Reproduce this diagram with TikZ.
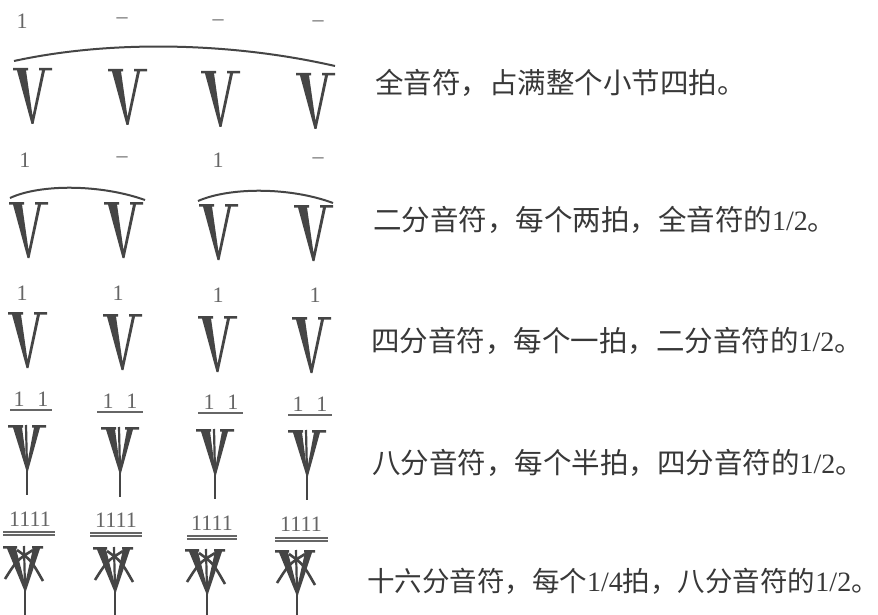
\documentclass[tikz,border=0pt]{standalone}
\usepackage{fontspec}
\setmainfont{Liberation Serif}
\newfontfamily\cjk{Noto Sans CJK SC}
\definecolor{ink}{HTML}{454545}
\definecolor{txt}{HTML}{383838}
\definecolor{numc}{HTML}{666666}
\newcommand{\lat}[1]{{\fontsize{28}{28}\selectfont #1}}
\tikzset{
  vq/.pic={
    \fill[ink] (-19,0) -- (-4,0) -- (-4,2.5) -- (-6,2.5) -- (0.5,48) -- (10,2.5) -- (7,2.5) -- (7,0)
      -- (20,0) -- (20,2.5) -- (13,2.5) -- (1.5,56) -- (-0.5,56) -- (-15,2.5) -- (-19,2.5) -- cycle;
  },
  ve/.pic={
    \fill[ink] (-19,0) -- (-4,0) -- (-4,2.5) -- (-5,2.5) -- (0,40) -- (7,2.5) -- (5,2.5) -- (5,0)
      -- (19,0) -- (19,2.5) -- (13,2.5) -- (1,46) -- (-0.5,46) -- (-14,2.5) -- (-19,2.5) -- cycle;
    \draw[ink,line width=2.2] (-1,0) -- (0,44);
    \draw[ink,line width=2.2] (0.3,44) -- (0.3,70);
  },
  vs/.pic={
    \fill[ink] (-22,0) -- (-8,0) -- (-8,2.5) -- (-9,2.5) -- (0,38) -- (8,2.5) -- (7,2.5) -- (7,0)
      -- (18,0) -- (18,2.5) -- (15,2.5) -- (1,45) -- (-0.5,45) -- (-18,2.5) -- (-22,2.5) -- cycle;
    \draw[ink,line width=2.2] (-1,0) -- (0,42);
    \draw[ink,line width=2.6] (-20,33) .. controls (-8,14) .. (8,4);
    \draw[ink,line width=2.6] (18,35) .. controls (6,14) .. (-8,4);
    \draw[ink,line width=2.2] (0.3,43) -- (0.3,72);
  },
  num/.style={text=numc,font=\fontsize{22}{22}\selectfont,inner sep=0pt},
  numb/.style={text=numc,font=\fontsize{22}{22}\selectfont,inner sep=0pt},
  desc/.style={text=txt,font=\fontsize{28.5}{28.5}\selectfont,anchor=west,inner sep=0pt},
  arcline/.style={draw=ink,line width=2},
  uline/.style={draw=numc,line width=1.4},
}
\begin{document}
\begin{tikzpicture}[x=1pt,y=-1pt]
\useasboundingbox[fill=white] (0,0) rectangle (878,615);

% Row 1: whole note
\node[num] (r1a) at (22,21) {1};
\node[num] (r1b) at (122,21) {–};
\node[num] (r1c) at (218,23) {–};
\node[num] (r1d) at (318,24) {–};
\draw[arcline] (14,61) .. controls (110,40) and (230,42) .. (335,66);
\pic at (32,68) {vq};
\pic at (127,69) {vq};
\pic at (220,71) {vq};
\pic at (315,73) {vq};
\node[desc] (t1) at (375,83) {\cjk 全音符，占满整个小节四拍。};

% Row 2: half notes
\node[num] (r2a) at (25,160) {1};
\node[num] (r2b) at (122,160) {–};
\node[num] (r2c) at (218,160) {1};
\node[num] (r2d) at (318,161) {–};
\draw[arcline] (10,198) .. controls (40,184) and (100,184) .. (145,200);
\draw[arcline] (198,201) .. controls (230,187) and (290,187) .. (333,203);
\pic at (28,202) {vq};
\pic at (123,202) {vq};
\pic at (218,204) {vq};
\pic at (313,205) {vq};
\node[desc] (t2) at (373,220) {{\cjk 二分音符，每个两拍，全音符的}\lat{1/2}{\cjk 。}};

% Row 3: quarter notes
\node[num] (r3a) at (22,293) {1};
\node[num] (r3b) at (118,293) {1};
\node[num] (r3c) at (218,295) {1};
\node[num] (r3d) at (315,295) {1};
\pic at (27,312) {vq};
\pic at (122,314) {vq};
\pic at (217,316) {vq};
\pic at (311,317) {vq};
\node[desc] (t3) at (371,341) {{\cjk 四分音符，每个一拍，二分音符的}\lat{1/2}{\cjk 。}};

% Row 4: eighth notes
\node[num] (r4a) at (31,399) {1\hspace{13pt}1};
\node[num] (r4b) at (120,401) {1\hspace{13pt}1};
\node[num] (r4c) at (221,402) {1\hspace{13pt}1};
\node[num] (r4d) at (310,404) {1\hspace{13pt}1};
\draw[uline] (10,410) -- (52,410);
\draw[uline] (97,412) -- (143,412);
\draw[uline] (198,413) -- (243,413);
\draw[uline] (288,415) -- (332,415);
\pic at (27,425) {ve};
\pic at (120,427) {ve};
\pic at (215,429) {ve};
\pic at (307,430) {ve};
\node[desc] (t4) at (372,463) {{\cjk 八分音符，每个半拍，四分音符的}\lat{1/2}{\cjk 。}};

% Row 5: sixteenth notes
\node[numb] (r5a) at (30,519) {1111};
\node[numb] (r5b) at (116,520) {1111};
\node[numb] (r5c) at (212,523) {1111};
\node[numb] (r5d) at (301,524) {1111};
\foreach \a/\b/\y in {3/55/532, 90/142/533, 187/237/536, 275/328/538}{
  \draw[uline] (\a,\y) -- (\b,\y);
  \draw[uline] (\a,\y+3) -- (\b,\y+3);
}
\pic at (25,546) {vs};
\pic at (115,547) {vs};
\pic at (207,549) {vs};
\pic at (297,550) {vs};
\node[desc,font=\fontsize{27.5}{27.5}\selectfont] (t5) at (367,581) {{\cjk 十六分音符，每个}\lat{1/4}{\cjk 拍，八分音符的}\lat{1/2}{\cjk 。}};
\end{tikzpicture}
\end{document}
